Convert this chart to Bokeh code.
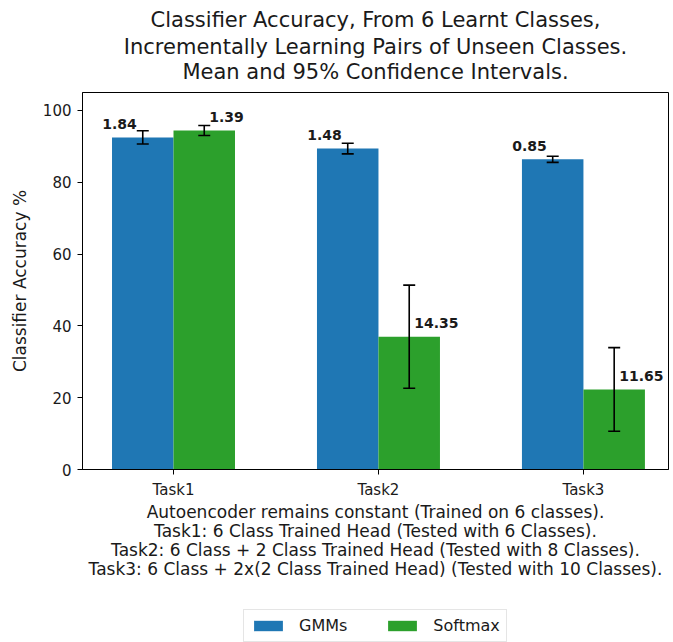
import numpy as np
from bokeh.plotting import figure
from bokeh.layouts import column
from bokeh.models import (ColumnDataSource, Range1d, FixedTicker, Whisker, TeeHead,
                          Title, Legend, LegendItem)
from bokeh.core.properties import value
from bokeh.embed import file_html
from bokeh.resources import INLINE

# ---------------- data ----------------
tasks = ["Task1", "Task2", "Task3"]
gmm_mean = [92.5, 89.4, 86.4]
gmm_ci = [1.84, 1.48, 0.85]
softmax_mean = [94.4, 37.0, 22.3]
softmax_ci = [1.39, 14.35, 11.65]
series_names = ["GMMs", "Softmax"]
y_ticks = [0, 20, 40, 60, 80, 100]
title_lines = [
    "Classifier Accuracy, From 6 Learnt Classes,",
    "Incrementally Learning Pairs of Unseen Classes.",
    "Mean and 95% Confidence Intervals.",
]
xlabel_lines = [
    "Autoencoder remains constant (Trained on 6 classes).",
    "Task1: 6 Class Trained Head (Tested with 6 Classes).",
    "Task2: 6 Class + 2 Class Trained Head (Tested with 8 Classes).",
    "Task3: 6 Class + 2x(2 Class Trained Head) (Tested with 10 Classes).",
]
ylabel = "Classifier Accuracy %"

# ---------------- styling ----------------
FONT = "DejaVu Sans"
TXT = "#1a1a1a"
C_GMM = "#1f77b4"
C_SOFT = "#2ca02c"
bar_w = 0.3
idx = np.arange(len(tasks))


def make_src(xs, means, cis):
    means = np.array(means, dtype=float)
    cis = np.array(cis, dtype=float)
    return ColumnDataSource(dict(
        x=xs, top=means, upper=means + cis, lower=means - cis,
        label=[f"{c:.2f}" for c in cis], label_y=means + 3.7,
    ))


src_g = make_src(idx - bar_w / 2, gmm_mean, gmm_ci)
src_s = make_src(idx + bar_w / 2, softmax_mean, softmax_ci)

p = figure(width=673, height=583, output_backend="svg", toolbar_location=None,
           x_range=Range1d(-0.444, 2.415), y_range=Range1d(0, 105),
           min_border_left=82, min_border_right=5, min_border_top=92,
           min_border_bottom=114)

r_g = p.vbar(x="x", top="top", bottom=0, width=bar_w, source=src_g,
             fill_color=C_GMM, line_color=None)
r_s = p.vbar(x="x", top="top", bottom=0, width=bar_w, source=src_s,
             fill_color=C_SOFT, line_color=None)

for src in (src_g, src_s):
    p.add_layout(Whisker(source=src, base="x", upper="upper", lower="lower",
                         dimension="height", line_color="black", line_width=1.6,
                         level="overlay",
                         upper_head=TeeHead(size=12, line_color="black", line_width=1.6),
                         lower_head=TeeHead(size=12, line_color="black", line_width=1.6)))

p.text(x="x", y="label_y", text="label", source=src_g, text_font=value(FONT),
       text_font_size="14px", text_font_style="bold", text_align="right",
       text_baseline="alphabetic", x_offset=-6, text_color=TXT)
p.text(x="x", y="label_y", text="label", source=src_s, text_font=value(FONT),
       text_font_size="14px", text_font_style="bold", text_align="left",
       text_baseline="alphabetic", x_offset=5, text_color=TXT)

# axes
p.xgrid.visible = False
p.ygrid.visible = False
p.outline_line_color = "black"
p.outline_line_alpha = 1.0
p.outline_line_width = 1

p.xaxis.ticker = FixedTicker(ticks=[float(i) for i in idx])
p.xaxis.major_label_overrides = {float(i): t for i, t in zip(idx, tasks)}
p.yaxis.ticker = FixedTicker(ticks=y_ticks)
for ax in (p.xaxis[0], p.yaxis[0]):
    ax.minor_tick_line_color = None
    ax.major_tick_in = 0
    ax.major_tick_out = 5
    ax.major_tick_line_color = "black"
    ax.axis_line_color = "black"
    ax.major_label_text_font = FONT
    ax.major_label_text_font_size = "15px"
    ax.major_label_text_color = TXT
p.xaxis.major_label_standoff = 6
p.yaxis.major_label_standoff = 6

p.yaxis.axis_label = ylabel
p.yaxis.axis_label_text_font = FONT
p.yaxis.axis_label_text_font_size = "17px"
p.yaxis.axis_label_text_font_style = "normal"
p.yaxis.axis_label_text_color = TXT
p.yaxis.axis_label_standoff = 10

# title (stacked: first added nearest the plot); a small spacer sits next to the frame
p.add_layout(Title(text=" ", text_font_size="7px", standoff=0), "above")
title_standoffs = [3, -1, -1]
for line, so in reversed(list(zip(title_lines, title_standoffs))):
    p.add_layout(Title(text=line, align="center", text_font=FONT,
                       text_font_size="21px", text_font_style="normal",
                       text_color=TXT, standoff=so), "above")

# multi-line x label
for line in xlabel_lines:
    p.add_layout(Title(text=line, align="center", text_font=FONT,
                       text_font_size="17px", text_font_style="normal",
                       text_color=TXT, standoff=-3), "below")

# legend strip below the chart (its frame is aligned with the chart's frame);
# the proxy bars fall below this strip's visible y-range, only the legend shows
q = figure(width=673, height=59, output_backend="svg", toolbar_location=None,
           x_range=Range1d(-0.444, 2.415), y_range=Range1d(150, 300),
           x_axis_type=None, y_axis_type=None, min_border=0)
q.outline_line_color = None
q.grid.visible = False
lg_g = q.vbar(x="x", top="top", width=bar_w, source=src_g,
              fill_color=C_GMM, line_color=None)
lg_s = q.vbar(x="x", top="top", width=bar_w, source=src_s,
              fill_color=C_SOFT, line_color=None)
legend = Legend(items=[LegendItem(label=series_names[0], renderers=[lg_g]),
                       LegendItem(label=series_names[1], renderers=[lg_s])],
                orientation="horizontal", location=(161, 0),
                label_text_font=FONT, label_text_font_size="16px",
                label_text_color=TXT,
                glyph_width=36, glyph_height=13, label_standoff=13,
                spacing=37, padding=6,
                border_line_color="#cccccc", background_fill_color="white",
                background_fill_alpha=1.0, margin=0)
q.add_layout(legend)

layout = column(p, q, spacing=0)
open("out.html", "w").write(file_html(layout, INLINE))
